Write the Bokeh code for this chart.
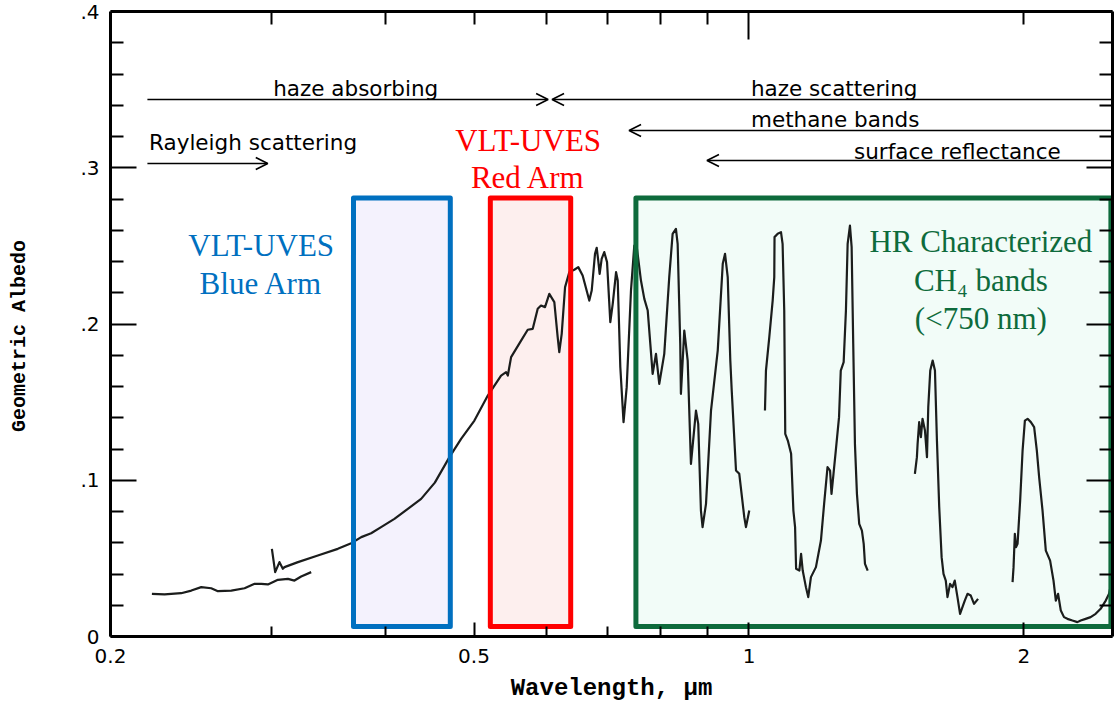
from bokeh.plotting import figure
from bokeh.models import (Range1d, FixedTicker, LinearAxis, LogAxis,
                          CustomJSTickFormatter, Arrow, OpenHead, Label)
from bokeh.embed import file_html
from bokeh.resources import INLINE

# ---------------- data (wavelength in micron, geometric albedo) ----------------
wl_uv = [0.2220, 0.2292, 0.2390, 0.2452, 0.2514, 0.2578, 0.2622, 0.2712, 0.2804,
         0.2876, 0.2925, 0.2974, 0.3050, 0.3128, 0.3180, 0.3234, 0.3317]
alb_uv = [0.0273, 0.0269, 0.0277, 0.0294, 0.0316, 0.0309, 0.0290, 0.0294, 0.0309,
          0.0337, 0.0337, 0.0333, 0.0363, 0.0369, 0.0358, 0.0384, 0.0412]

wl_vis = [0.3004, 0.3029, 0.3062, 0.3088, 0.3101, 0.3208, 0.3373, 0.3547, 0.3669, 0.3763,
          0.3858, 0.3956, 0.4091, 0.4232, 0.4376, 0.4530, 0.4700, 0.4840, 0.5005, 0.5177,
          0.5353, 0.5421, 0.5445, 0.5490, 0.5630, 0.5725, 0.5798, 0.5871, 0.5920, 0.5980,
          0.6045, 0.6122, 0.6174, 0.6199, 0.6237, 0.6290, 0.6358, 0.6438, 0.6503, 0.6575,
          0.6686, 0.6727, 0.6783, 0.6812, 0.6839, 0.6863, 0.6898, 0.6943, 0.6992, 0.7050,
          0.7093, 0.7153, 0.7183, 0.7230, 0.7289, 0.7347, 0.7427, 0.7489, 0.7540, 0.7616,
          0.7681, 0.7747, 0.7844, 0.7910, 0.7976, 0.8077, 0.8179, 0.8249, 0.8318, 0.8354,
          0.8409, 0.8423, 0.8495, 0.8568, 0.8639, 0.8749, 0.8799, 0.8859, 0.8896, 0.8973,
          0.9087, 0.9242, 0.9360, 0.9414, 0.9478, 0.9540, 0.9574, 0.9678, 0.9758, 0.9882,
          0.9924, 1.0007]
alb_vis = [0.0561, 0.0412, 0.0476, 0.0433, 0.0444, 0.0476, 0.0518, 0.0561, 0.0597, 0.0636,
           0.0661, 0.0700, 0.0753, 0.0817, 0.0881, 0.0985, 0.1148, 0.1265, 0.1382, 0.1542,
           0.1670, 0.1692, 0.1670, 0.1788, 0.1894, 0.1963, 0.1969, 0.2097, 0.2118, 0.2108,
           0.2193, 0.2140, 0.1916, 0.1820, 0.1937, 0.2236, 0.2332, 0.2347, 0.2364, 0.2310,
           0.2150, 0.2214, 0.2449, 0.2488, 0.2406, 0.2321, 0.2417, 0.2460, 0.2396, 0.2012,
           0.2129, 0.2332, 0.2278, 0.1724, 0.1372, 0.1596, 0.2214, 0.2502, 0.2483, 0.2278,
           0.2161, 0.2086, 0.1681, 0.1809, 0.1617, 0.1809, 0.2300, 0.2577, 0.2609, 0.2513,
           0.1873, 0.1553, 0.1958, 0.1766, 0.1105, 0.1446, 0.1361, 0.0806, 0.0700, 0.0849,
           0.1446, 0.1830, 0.2385, 0.2449, 0.2300, 0.1766, 0.1574, 0.1062, 0.1041, 0.0764,
           0.0700, 0.0806]

wl_13 = [1.0411, 1.0437, 1.0525, 1.0615, 1.0658, 1.0665, 1.0750, 1.0840, 1.0884, 1.0929,
         1.0957, 1.1028, 1.1120, 1.1184, 1.1232, 1.1261, 1.1354, 1.1403, 1.1450, 1.1543,
         1.1611, 1.1690, 1.1838, 1.1988, 1.2085, 1.2189, 1.2268, 1.2312, 1.2374, 1.2446,
         1.2548, 1.2603, 1.2695, 1.2768, 1.2823, 1.2898, 1.2953, 1.3005, 1.3061, 1.3127,
         1.3203, 1.3293, 1.3353, 1.3396, 1.3488]
alb_13 = [0.1446, 0.1702, 0.1916, 0.2150, 0.2300, 0.2556, 0.2577, 0.2588, 0.2513, 0.2086,
          0.1297, 0.1254, 0.1169, 0.0806, 0.0700, 0.0433, 0.0422, 0.0529, 0.0422, 0.0316,
          0.0252, 0.0380, 0.0444, 0.0614, 0.0849, 0.1084, 0.1062, 0.0913, 0.1041, 0.1190,
          0.1404, 0.1702, 0.1756, 0.2086, 0.2513, 0.2630, 0.2492, 0.1873, 0.1233, 0.0913,
          0.0721, 0.0678, 0.0593, 0.0465, 0.0422]

wl_16 = [1.5192, 1.5269, 1.5296, 1.5357, 1.5424, 1.5487, 1.5583, 1.5662, 1.5713, 1.5792,
         1.5888, 1.5980, 1.6060, 1.6153, 1.6251, 1.6328, 1.6422, 1.6493, 1.6600, 1.6702,
         1.6798, 1.6913, 1.7024, 1.7127, 1.7228, 1.7346, 1.7490, 1.7635, 1.7814]
alb_16 = [0.1041, 0.1148, 0.1233, 0.1372, 0.1276, 0.1393, 0.1318, 0.1148, 0.1468, 0.1702,
          0.1766, 0.1702, 0.1254, 0.0828, 0.0508, 0.0401, 0.0358, 0.0252, 0.0337, 0.0316,
          0.0358, 0.0252, 0.0145, 0.0188, 0.0230, 0.0273, 0.0262, 0.0209, 0.0241]

wl_20 = [1.9433, 1.9481, 1.9545, 1.9605, 1.9679, 1.9808, 1.9930, 2.0046, 2.0183, 2.0350,
         2.0519, 2.0659, 2.0779, 2.0958, 2.1132, 2.1362, 2.1546, 2.1672, 2.1796, 2.1946,
         2.2124, 2.2315, 2.2596, 2.2883, 2.3074, 2.3363, 2.3660, 2.3960, 2.4263, 2.4578,
         2.4784, 2.4953]
alb_20 = [0.0348, 0.0444, 0.0657, 0.0572, 0.0593, 0.0870, 0.1190, 0.1382, 0.1393, 0.1372,
          0.1340, 0.1190, 0.1020, 0.0806, 0.0550, 0.0486, 0.0358, 0.0230, 0.0273, 0.0166,
          0.0124, 0.0113, 0.0102, 0.0092, 0.0102, 0.0113, 0.0124, 0.0145, 0.0177, 0.0230,
          0.0273, 0.0358]

# highlighted wavelength windows: UVES blue arm, UVES red arm, HR CH4 bands
box_left = [0.369, 0.521, 0.752]
box_right = [0.471, 0.638, 2.49]
box_top = [0.2806, 0.2806, 0.2806]
box_bottom = [0.0064, 0.0064, 0.0064]
box_line = ["#0070C0", "#FF0000", "#0E6B3C"]
box_fill = ["#F4F2FD", "#FDEFEE", "#F2FCF8"]

x_major_ticks = [0.2, 0.5, 1, 2]
x_minor_ticks = [0.3, 0.4, 0.6, 0.7, 0.8, 0.9]
y_major_ticks = [0, 0.1, 0.2, 0.3, 0.4]
y_minor_ticks = [0.02, 0.04, 0.06, 0.08, 0.12, 0.14, 0.16, 0.18, 0.22, 0.24, 0.26, 0.28,
                 0.32, 0.34, 0.36, 0.38]

# ---------------- figure ----------------
p = figure(width=1116, height=707, x_axis_type="log",
           x_range=Range1d(0.2, 2.5), y_range=Range1d(0, 0.4),
           output_backend="svg", toolbar_location=None,
           min_border_left=110, min_border_right=4, min_border_top=11,
           min_border_bottom=71)
p.outline_line_color = None
p.grid.visible = False
p.background_fill_color = "white"
p.border_fill_color = "white"

tick_font = "DejaVu Sans"
blank = CustomJSTickFormatter(code="return ' ';")

xb = p.below[0]
xb.ticker = FixedTicker(ticks=x_major_ticks, minor_ticks=x_minor_ticks)
xb.formatter = CustomJSTickFormatter(code="return tick.toString();")
xb.axis_line_width = 3
xb.major_tick_in = 14
xb.major_tick_out = 0
xb.minor_tick_in = 10
xb.minor_tick_out = 0
xb.major_tick_line_width = 2
xb.minor_tick_line_width = 2
xb.major_label_text_font = tick_font
xb.major_label_text_font_size = "20px"
xb.major_label_text_color = "black"
xb.major_label_standoff = 12
xb.axis_label = "Wavelength, \u03bcm"
xb.axis_label_text_font = "Liberation Mono"
xb.axis_label_text_font_style = "bold"
xb.axis_label_text_font_size = "24px"
xb.axis_label_text_color = "black"
xb.axis_label_standoff = 9

yl = p.left[0]
yl.ticker = FixedTicker(ticks=y_major_ticks, minor_ticks=y_minor_ticks)
yl.formatter = CustomJSTickFormatter(
    code="return tick === 0 ? '0' : tick.toFixed(1).replace(/^0/, '');")
yl.axis_line_width = 3
yl.major_tick_in = 26
yl.major_tick_out = 0
yl.minor_tick_in = 13
yl.minor_tick_out = 0
yl.major_tick_line_width = 2
yl.minor_tick_line_width = 2
yl.major_label_text_font = tick_font
yl.major_label_text_font_size = "20px"
yl.major_label_text_color = "black"
yl.major_label_standoff = 11
yl.axis_label = "Geometric Albedo\u00a0\u00a0"
yl.axis_label_text_font = "Liberation Mono"
yl.axis_label_text_font_style = "bold"
yl.axis_label_text_font_size = "20px"
yl.axis_label_text_color = "black"
yl.axis_label_standoff = 46

xt = LogAxis(ticker=FixedTicker(ticks=[1], minor_ticks=x_minor_ticks + [0.5, 2]),
             formatter=blank,
             axis_line_width=3, major_tick_in=28, major_tick_out=0,
             minor_tick_in=13, minor_tick_out=0, major_tick_line_width=2,
             minor_tick_line_width=2, major_label_text_font_size="2px",
             major_label_text_alpha=0, major_label_standoff=0)
p.add_layout(xt, "above")

yr = LinearAxis(ticker=FixedTicker(ticks=y_major_ticks, minor_ticks=y_minor_ticks),
                formatter=blank,
                axis_line_width=3, major_tick_in=26, major_tick_out=0,
                minor_tick_in=13, minor_tick_out=0, major_tick_line_width=2,
                minor_tick_line_width=2, major_label_text_font_size="2px",
                major_label_text_alpha=0, major_label_standoff=0)
p.add_layout(yr, "right")

# box fills
p.quad(left=box_left, right=box_right, top=box_top, bottom=box_bottom,
       fill_color=box_fill, line_color=None)

# spectrum
curve_color = "#1b1d1c"
for wl, alb in [(wl_uv, alb_uv), (wl_vis, alb_vis), (wl_13, alb_13),
                (wl_16, alb_16), (wl_20, alb_20)]:
    p.line(wl, alb, line_color=curve_color, line_width=2.2, line_join="round")

# box outlines
p.quad(left=box_left, right=box_right, top=box_top, bottom=box_bottom,
       fill_color=None, line_color=box_line, line_width=5, line_join="round")

# ---------------- annotations (arrows + text) ----------------
def arrow(x0, y0, x1, y1):
    p.add_layout(Arrow(end=OpenHead(size=12, line_width=1.6, line_color="black"),
                       x_start=x0, y_start=y0, x_end=x1, y_end=y1,
                       line_width=1.6, line_color="black"))

arrow(0.2195, 0.3437, 0.6027, 0.3437)   # haze absorbing
arrow(2.5, 0.3437, 0.6087, 0.3437)      # haze scattering
arrow(2.5, 0.3238, 0.7391, 0.3238)      # methane bands
arrow(2.5, 0.3046, 0.8995, 0.3046)      # surface reflectance
arrow(0.2195, 0.3027, 0.2973, 0.3027)   # Rayleigh scattering

ann_font = "DejaVu Sans"
for txt, x, y in [("haze absorbing", 0.3014, 0.3508),
                  ("haze scattering", 1.005, 0.3508),
                  ("methane bands", 1.005, 0.3310),
                  ("surface reflectance", 1.303, 0.3107),
                  ("Rayleigh scattering", 0.2204, 0.3160)]:
    p.add_layout(Label(x=x, y=y, text=txt, text_font=ann_font,
                       text_font_size="21.5px", text_color="black",
                       text_align="left", text_baseline="alphabetic"))

serif = "Liberation Serif"
for txt, x, y, col in [("VLT-UVES", 0.2924, 0.2502, "#0070C0"),
                       ("Blue Arm", 0.2924, 0.2259, "#0070C0"),
                       ("VLT-UVES", 0.5731, 0.3174, "#FF0000"),
                       ("Red Arm", 0.5731, 0.2938, "#FF0000"),
                       ("HR Characterized", 1.794, 0.2528, "#0E6B3C"),
                       ("CH\u2084 bands", 1.794, 0.2278, "#0E6B3C"),
                       ("(<750 nm)", 1.794, 0.2035, "#0E6B3C")]:
    p.add_layout(Label(x=x, y=y, text=txt, text_font=serif,
                       text_font_size="31px", text_color=col,
                       text_align="center", text_baseline="middle"))

open("out.html", "w").write(file_html(p, INLINE))
